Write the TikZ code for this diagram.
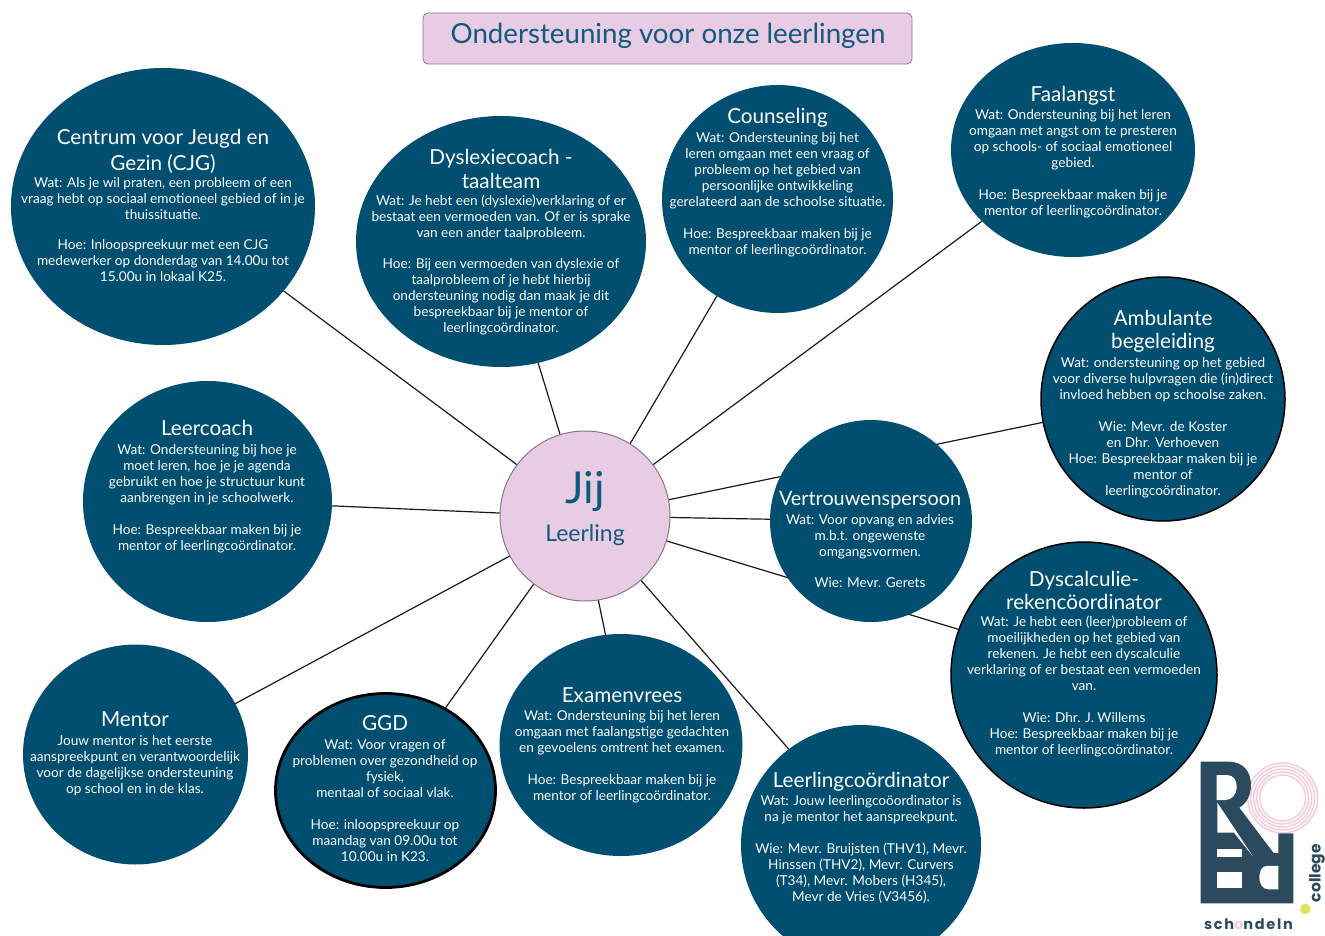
\documentclass[tikz,border=0pt]{standalone}
\usepackage{fontspec}
\setmainfont{Lato}
\newfontfamily\logofont[LetterSpace=12]{Poppins}
\newfontfamily\logofontb{Poppins}
\usetikzlibrary{shapes.geometric,backgrounds}
\definecolor{bubblecol}{HTML}{004F71}
\definecolor{pinkfill}{HTML}{E8CCE3}
\definecolor{pinkline}{HTML}{85788A}
\definecolor{inktext}{HTML}{0F5A7E}
\definecolor{logodark}{HTML}{2B4A5E}
\definecolor{logopink}{HTML}{F6C9D8}
\definecolor{logoyellow}{HTML}{DDE35A}
\newcommand{\hd}[1]{{\fontsize{20.7}{23}\selectfont #1}}
\newcommand{\hdn}[1]{{\fontsize{19.8}{23}\selectfont #1}}
\tikzset{
  bubble/.style={ellipse,fill=bubblecol,draw=none,inner sep=0pt,outer sep=0pt},
  ringed/.style={bubble,draw=black,line width=1.5pt},
  ringedheavy/.style={bubble,draw=black,line width=2.8pt},
  bubbletext/.style={anchor=north,align=center,text=white,inner sep=0pt,outer sep=0pt,
    font=\fontsize{13.6}{16}\selectfont},
  spoke/.style={draw=black!90,line width=1.2pt},
  hub/.style={circle,fill=pinkfill,draw=pinkline,line width=1pt,minimum size=170pt,inner sep=0pt,outer sep=0pt},
  titlebox/.style={rectangle,rounded corners=5pt,fill=pinkfill,draw=pinkline,line width=0.8pt,
    minimum width=489pt,minimum height=51pt,inner sep=0pt,outer sep=0pt},
  titletext/.style={text=inktext,inner sep=0pt,font=\fontsize{27.7}{32}\selectfont},
}
\begin{document}
\begin{tikzpicture}[x=1pt,y=-1pt]
\useasboundingbox (0,0) rectangle (1325,936);
\clip (0,0) rectangle (1325,936);
\node[titlebox] (title) at (667.5,38.5) {};
\node[titletext] (titlet) at (668,36) {Ondersteuning voor onze leerlingen};
\node[hub] (jij) at (585,516) {};
\node[text=inktext,font=\fontsize{44}{48}\selectfont,inner sep=0pt] (jijtext) at (585,491) {Jij};
\node[text=inktext,font=\fontsize{23}{26}\selectfont,inner sep=0pt] (leerling) at (585,535) {Leerling};

\node[bubble,minimum width=304pt,minimum height=277pt] (cjg) at (163,206.5) {};
\node[bubble,minimum width=290pt,minimum height=251pt] (dys) at (501,241.5) {};
\node[bubble,minimum width=231pt,minimum height=228pt] (cou) at (777.5,199) {};
\node[bubble,minimum width=244pt,minimum height=214pt] (faa) at (1073,150) {};
\node[ringed,minimum width=244pt,minimum height=244pt] (amb) at (1163,399) {};
\node[bubble,minimum width=202pt,minimum height=202pt] (ver) at (871,521) {};
\node[ringed,minimum width=266pt,minimum height=266pt] (dyc) at (1084,675) {};
\node[bubble,minimum width=249pt,minimum height=241pt] (lco) at (207.5,501.5) {};
\node[bubble,minimum width=225pt,minimum height=220pt] (men) at (135.5,754.5) {};
\node[ringedheavy,minimum width=220pt,minimum height=194pt] (ggd) at (385.5,790.5) {};
\node[bubble,minimum width=243pt,minimum height=222pt] (exa) at (621,745) {};
\node[bubble,minimum width=240pt,minimum height=240pt] (llc) at (861,845) {};

\begin{pgfonlayer}{background}
\draw[spoke] (jij.143) -- (cjg.-35.8);
\draw[spoke] (jij.107) -- (dys.-73);
\draw[spoke] (jij.58) -- (cou.-122);
\draw[spoke] (jij.37) -- (faa.-142);
\draw[spoke] (jij.11.5) -- (amb.191.5);
\draw[spoke] (jij.-1) -- (ver.179);
\draw[spoke] (jij.-17) -- (dyc.160.6);
\draw[spoke] (jij.-49) -- (llc.127.5);
\draw[spoke] (jij.-81) -- (exa.98.7);
\draw[spoke] (jij.233.5) -- (ggd.54);
\draw[spoke] (jij.208) -- (men.27.9);
\draw[spoke] (jij.178) -- (lco.-2);
\end{pgfonlayer}

\node[bubbletext] (cjgt) at (163,129) {\hd{Centrum voor Jeugd en}\\[5pt]\hd{Gezin (CJG)}\\[1pt]
Wat: Als je wil praten, een probleem of een\\ vraag hebt op sociaal emotioneel gebied of in je\\ thuissituatie.\\[14pt]
Hoe: Inloopspreekuur met een CJG\\ medewerker op donderdag van 14.00u tot\\ 15.00u in lokaal K25.};
\node[bubbletext] (dyst) at (501,149) {\hd{Dyslexiecoach -}\\[4pt]\hd{taalteam}\\[1pt]
Wat: Je hebt een (dyslexie)verklaring of er\\ bestaat een vermoeden van. Of er is sprake\\ van een ander taalprobleem.\\[15pt]
Hoe: Bij een vermoeden van dyslexie of\\ taalprobleem of je hebt hierbij\\ ondersteuning nodig dan maak je dit\\ bespreekbaar bij je mentor of\\ leerlingcoördinator.};
\node[bubbletext] (cout) at (777.5,108) {\hd{Counseling}\\[3pt]
Wat: Ondersteuning bij het\\ leren omgaan met een vraag of\\ probleem op het gebied van\\ persoonlijke ontwikkeling\\ gerelateerd aan de schoolse situatie.\\[16pt]
Hoe: Bespreekbaar maken bij je\\ mentor of leerlingcoördinator.};
\node[bubbletext] (faat) at (1073,86) {\hd{Faalangst}\\[2pt]
Wat: Ondersteuning bij het leren\\ omgaan met angst om te presteren\\ op schools- of sociaal emotioneel\\ gebied.\\[16pt]
Hoe: Bespreekbaar maken bij je\\ mentor of leerlingcoördinator.};
\node[bubbletext] (ambt) at (1163,310) {\hd{Ambulante}\\[7pt]\hd{begeleiding}\\[3pt]
Wat: ondersteuning op het gebied\\ voor diverse hulpvragen die (in)direct\\ invloed hebben op schoolse zaken.\\[16pt]
Wie: Mevr. de Koster\\ en Dhr. Verhoeven\\ Hoe: Bespreekbaar maken bij je\\ mentor of\\ leerlingcoördinator.};
\node[bubbletext] (vert) at (870,491) {\hdn{Vertrouwenspersoon}\\[3pt]
Wat: Voor opvang en advies\\ m.b.t. ongewenste\\ omgangsvormen.\\[15pt]
Wie: Mevr. Gerets};
\node[bubbletext] (dyct) at (1084,571) {\hd{Dyscalculie-}\\[3pt]\hd{rekencöordinator}\\[1pt]
Wat: Je hebt een (leer)probleem of\\ moeilijkheden op het gebied van\\ rekenen. Je hebt een dyscalculie\\ verklaring of er bestaat een vermoeden\\ van.\\[16pt]
Wie: Dhr. J. Willems\\ Hoe: Bespreekbaar maken bij je\\ mentor of leerlingcoördinator.};
\node[bubbletext] (lcot) at (207,420) {\hd{Leercoach}\\[3pt]
Wat: Ondersteuning bij hoe je\\ moet leren, hoe je je agenda\\ gebruikt en hoe je structuur kunt\\ aanbrengen in je schoolwerk.\\[16pt]
Hoe: Bespreekbaar maken bij je\\ mentor of leerlingcoördinator.};
\node[bubbletext] (ment) at (135,712) {\hd{Mentor}\\[3pt]
Jouw mentor is het eerste\\ aanspreekpunt en verantwoordelijk\\ voor de dagelijkse ondersteuning\\ op school en in de klas.};
\node[bubbletext] (ggdt) at (385,715) {\hd{GGD}\\[3pt]
Wat: Voor vragen of\\ problemen over gezondheid op\\ fysiek,\\ mentaal of sociaal vlak.\\[16pt]
Hoe: inloopspreekuur op\\ maandag van 09.00u tot\\ 10.00u in K23.};
\node[bubbletext] (exat) at (622,688) {\hd{Examenvrees}\\[2pt]
Wat: Ondersteuning bij het leren\\ omgaan met faalangstige gedachten\\ en gevoelens omtrent het examen.\\[16pt]
Hoe: Bespreekbaar maken bij je\\ mentor of leerlingcoördinator.};
\node[bubbletext] (llct) at (861,772) {\hd{Leerlingcoördinator}\\[2pt]
Wat: Jouw leerlingcoöordinator is\\ na je mentor het aanspreekpunt.\\[16pt]
Wie: Mevr. Bruijsten (THV1), Mevr.\\ Hinssen (THV2), Mevr. Curvers\\ (T34), Mevr. Mobers (H345),\\ Mevr de Vries (V3456).};

% logo
\begin{scope}[shift={(1180,740)},x=0.3333pt,y=-0.3333pt]
\foreach \r in {105,96,87,78,69}
  \draw[logopink,line width=1.4pt] (308,174) circle [radius=\r];
\fill[logodark] (62,65) -- (145,65) .. controls (190,65) and (213,95) .. (213,135)
  .. controls (213,165) and (200,190) .. (178,203) -- (280,338) -- (295,340) -- (295,280)
  -- (340,280) -- (340,490) -- (62,490) -- cycle;
\fill[white] (110,105) -- (140,105) .. controls (160,105) and (170,120) .. (170,140)
  .. controls (170,165) and (155,180) .. (135,180) -- (110,180) -- cycle;
\fill[white] (112,188) -- (218,348) -- (162,278) -- (112,278) -- cycle;
\fill[white] (110,328) -- (187,328) -- (187,350) -- (110,350) -- cycle;
\fill[white] (110,397) -- (185,397) -- (185,445) -- (110,445) -- cycle;
\fill[white] (295,378) -- (260,378) .. controls (245,378) and (238,395) .. (238,412)
  .. controls (238,432) and (248,448) .. (265,448) -- (295,448) -- cycle;
\fill[logoyellow] (376,507) circle [radius=16];
\end{scope}
\node[text=logodark,rotate=90,inner sep=0pt,font=\logofontb\bfseries\fontsize{15.5}{18}\selectfont] (collegetext) at (1317,873) {college};
\node[text=logodark,inner sep=0pt,font=\logofont\bfseries\fontsize{14.5}{18}\selectfont] (schondeln) at (1248.5,924) {sch\textcolor{logopink}{o}ndeln};
\end{tikzpicture}
\end{document}
